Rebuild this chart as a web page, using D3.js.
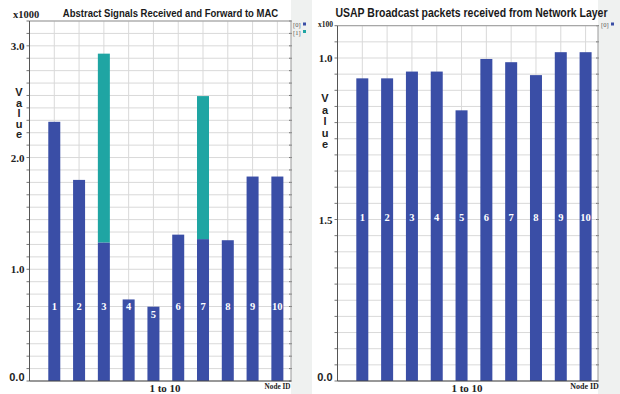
<!DOCTYPE html>
<html>
<head>
<meta charset="utf-8">
<script src="https://cdn.jsdelivr.net/npm/d3@7"></script>
<style>
  html, body { margin: 0; padding: 0; background: #ffffff; }
  svg { display: block; }
</style>
</head>
<body>
<svg id="chart" width="620" height="394"></svg>
<script>
// Node IDs shared by both panels
const nodes = [1, 2, 3, 4, 5, 6, 7, 8, 9, 10];

// Left panel: abstract signals (x1000), two stacked series
const signalsSeries0 = [2.32, 1.80, 1.24, 0.73, 0.665, 1.31, 1.27, 1.26, 1.83, 1.83];
const signalsSeries1 = [0, 0, 1.69, 0, 0, 0, 1.28, 0, 0, 0];
const signalsTickValues = [0, 1, 2, 3];
const signalsTickLabels = ["0.0", "1.0", "2.0", "3.0"];

// Right panel: USAP broadcast packets (x100)
const usapSeries0 = [0.937, 0.937, 0.958, 0.958, 0.838, 0.997, 0.987, 0.947, 1.018, 1.018];
const usapTickValues = [0, 0.5, 1.0];
const usapTickLabels = ["0.0", "1.5", "1.0"];

const seriesNames = ["[0]", "[1]"];
const colors = ["#3a4ea6", "#1fa5a3"];

const SERIF = "'Liberation Serif', 'DejaVu Serif', serif";
const SANS = "'Liberation Sans', Arial, sans-serif";

const svg = d3.select("#chart");

// light grey side strips holding the legends
svg.append("rect").attr("x", 291).attr("y", 0).attr("width", 21).attr("height", 394).attr("fill", "#eff1f0");
svg.append("rect").attr("x", 598).attr("y", 0).attr("width", 22).attr("height", 394).attr("fill", "#eff1f0");

function panel(opts) {
  const g = svg.append("g");
  const x = d3.scaleLinear().domain(opts.xDomain).range(opts.xRange);
  const y = d3.scaleLinear().domain(opts.yDomain).range(opts.yRange);
  const [x0, x1] = opts.xRange;
  const [yb, yt] = opts.yRange;

  // background
  g.append("rect").attr("x", x0).attr("y", yt).attr("width", x1 - x0).attr("height", yb - yt).attr("fill", "#fff");

  // horizontal grid
  const hLines = d3.range(0, Math.round(opts.yDomain[1] / opts.gridStep) + 1).map(k => k * opts.gridStep);
  g.selectAll(".hg").data(hLines).join("line")
    .attr("x1", x0).attr("x2", x1)
    .attr("y1", d => y(d)).attr("y2", d => y(d))
    .attr("stroke", "#d9d9d9").attr("stroke-width", 1);
  // small ticks on both sides
  g.selectAll(".tl").data(hLines).join("line")
    .attr("x1", x0 - 3).attr("x2", x0)
    .attr("y1", d => y(d)).attr("y2", d => y(d))
    .attr("stroke", "#777").attr("stroke-width", 1);
  g.selectAll(".tr").data(hLines).join("line")
    .attr("x1", x1 - 2).attr("x2", x1 + 1)
    .attr("y1", d => y(d)).attr("y2", d => y(d))
    .attr("stroke", "#777").attr("stroke-width", 1);

  // vertical grid at each node
  g.selectAll(".vg").data(nodes).join("line")
    .attr("x1", d => x(d)).attr("x2", d => x(d))
    .attr("y1", yt).attr("y2", yb)
    .attr("stroke", "#d9d9d9").attr("stroke-width", 1);

  // stacked bars
  const rows = nodes.map((n, i) => {
    const r = { node: n };
    opts.series.forEach((s, k) => { r["s" + k] = s[i]; });
    return r;
  });
  const keys = opts.series.map((s, k) => "s" + k);
  const stacked = d3.stack().keys(keys)(rows);
  const bw = 12;
  stacked.forEach((layer, k) => {
    g.selectAll(".bar" + k).data(layer.filter(d => d[1] - d[0] > 0)).join("rect")
      .attr("x", d => x(d.data.node) - bw / 2)
      .attr("width", bw)
      .attr("y", d => y(d[1]))
      .attr("height", d => y(d[0]) - y(d[1]))
      .attr("fill", colors[k]);
  });

  // node numbers inside the bars
  g.selectAll(".bl").data(rows).join("text")
    .attr("x", d => x(d.node))
    .attr("y", d => Math.max(opts.labelY, y(d.s0) + 11))
    .attr("text-anchor", "middle")
    .attr("font-family", SERIF).attr("font-weight", "bold").attr("font-size", 10.5)
    .attr("fill", "#ffffff")
    .text(d => d.node);

  // frame
  g.append("line").attr("x1", x0).attr("x2", x1).attr("y1", yt).attr("y2", yt).attr("stroke", "#9a9a9a");
  g.append("line").attr("x1", x1).attr("x2", x1).attr("y1", yt).attr("y2", yb).attr("stroke", "#9a9a9a");
  g.append("line").attr("x1", x0).attr("x2", x0).attr("y1", yt).attr("y2", yb).attr("stroke", "#555");
  g.append("line").attr("x1", x0).attr("x2", x1).attr("y1", yb).attr("y2", yb).attr("stroke", "#444");

  // y tick labels
  g.selectAll(".yl").data(opts.tickValues).join("text")
    .attr("x", x0 - 5)
    .attr("y", d => y(d) + (d === 0 ? -0.5 : 4))
    .attr("text-anchor", "end")
    .attr("font-family", d => d === 0 ? SANS : SERIF)
    .attr("font-weight", "bold").attr("font-size", 11)
    .attr("fill", "#222")
    .text((d, i) => opts.tickLabels[i]);

  // multiplier
  g.append("text").attr("x", opts.multX).attr("y", opts.multY)
    .attr("font-family", SERIF).attr("font-weight", "bold").attr("font-size", opts.multSize)
    .attr("fill", "#222").text(opts.mult);

  // vertical "Value" title, letters stacked upright
  g.append("text")
    .attr("x", opts.valueX).attr("y", opts.valueY)
    .attr("font-family", SANS).attr("font-weight", "bold").attr("font-size", 11)
    .style("writing-mode", "vertical-rl")
    .style("text-orientation", "upright")
    .style("letter-spacing", opts.valueSpacing + "px")
    .attr("fill", "#222")
    .text("Value");

  // title, squeezed horizontally to the header width
  const tg = g.append("g")
    .attr("transform", `translate(${opts.titleX},16.5) scale(${opts.titleScale},1)`);
  tg.append("text").attr("x", 0).attr("y", 0)
    .attr("text-anchor", "middle")
    .attr("font-family", SANS).attr("font-weight", "bold").attr("font-size", opts.titleSize)
    .attr("fill", "#1a1a1a").text(opts.title);

  // x titles
  g.append("text").attr("x", opts.xTitleX).attr("y", 392)
    .attr("text-anchor", "middle")
    .attr("font-family", SERIF).attr("font-weight", "bold").attr("font-size", 11)
    .attr("fill", "#222").text("1 to 10");
  g.append("text").attr("x", opts.nodeIdX).attr("y", 389)
    .attr("text-anchor", "middle")
    .attr("font-family", SERIF).attr("font-weight", "bold").attr("font-size", opts.nodeIdSize)
    .attr("fill", "#222").text("Node ID");

  // legend
  opts.series.forEach((s, k) => {
    const ly = 25 + k * 7.5;
    g.append("text").attr("x", opts.legendX).attr("y", ly + 2)
      .attr("font-family", SERIF).attr("font-size", 6.5).attr("fill", "#555")
      .text(seriesNames[k]);
    g.append("rect").attr("x", opts.legendX + 10).attr("y", ly - 2.5)
      .attr("width", 3).attr("height", 3).attr("fill", colors[k]);
  });
}

panel({
  series: [signalsSeries0, signalsSeries1],
  xDomain: [0, 10.55], xRange: [29.5, 291],
  yDomain: [0, 29 / 9], yRange: [381, 21],
  gridStep: 1 / 9,
  tickValues: signalsTickValues, tickLabels: signalsTickLabels,
  labelY: 310,
  mult: "x1000", multX: 13, multY: 18, multSize: 10.5,
  valueX: 19, valueY: 86, valueSpacing: -1.5,
  title: "Abstract Signals Received and Forward to MAC", titleX: 170.5, titleSize: 11.5, titleScale: 0.83,
  xTitleX: 165, nodeIdX: 277.5, nodeIdSize: 7.2,
  legendX: 293
});

panel({
  series: [usapSeries0],
  xDomain: [0, 10.5], xRange: [337.5, 598],
  yDomain: [0, 1.1], yRange: [381, 25.7],
  gridStep: 0.05,
  tickValues: usapTickValues, tickLabels: usapTickLabels,
  labelY: 221,
  mult: "x100", multX: 318, multY: 27, multSize: 7.5,
  valueX: 325, valueY: 92, valueSpacing: -0.5,
  title: "USAP Broadcast packets received from Network Layer", titleX: 471.5, titleSize: 12.5, titleScale: 0.84,
  xTitleX: 467, nodeIdX: 584.5, nodeIdSize: 8,
  legendX: 601
});
</script>
</body>
</html>
